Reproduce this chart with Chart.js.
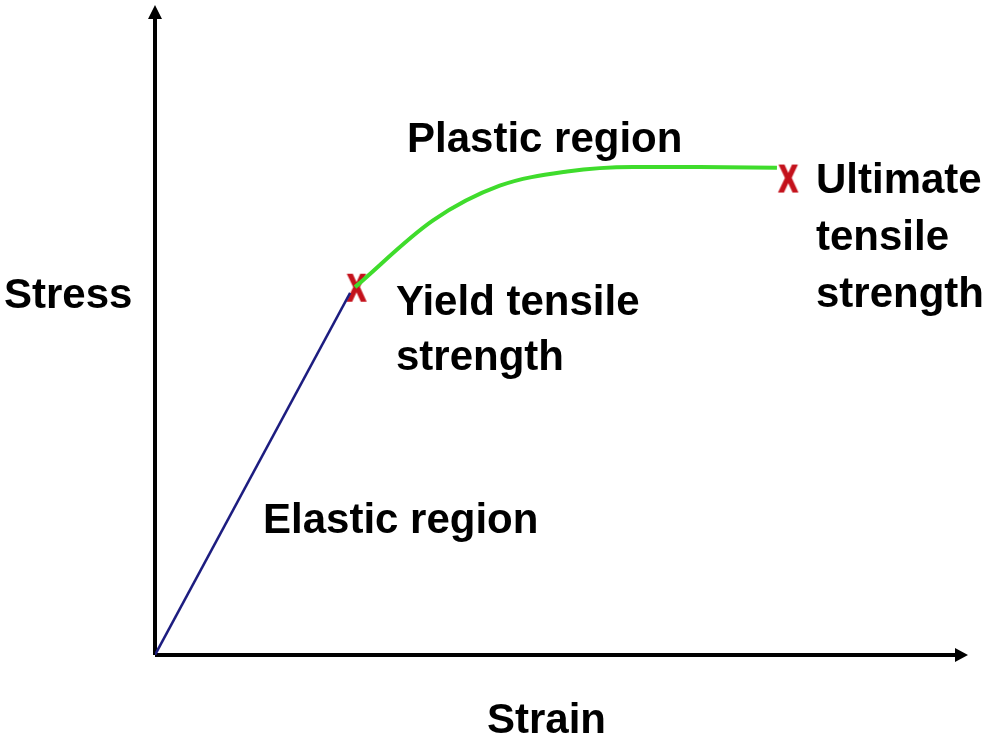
<!DOCTYPE html>
<html>
<head>
<meta charset="utf-8">
<title>Stress-strain curve</title>
<script src="https://cdn.jsdelivr.net/npm/chart.js@4/dist/chart.umd.min.js"></script>
<style>
  html, body { margin: 0; padding: 0; background: #fff; }
  #wrap { width: 1000px; height: 750px; }
</style>
</head>
<body>
<div id="wrap"><canvas id="chart" width="1000" height="750"></canvas></div>
<script>
// Curve values (strain, stress), 0-100 scale
const elasticStrain = [0, 24.0];
const elasticStress = [0, 56.4];
const plasticStrain = [24.6, 34.2, 42.4, 50.7, 58.8, 67.0, 76.5];
const plasticStress = [57.3, 67.7, 73.1, 75.3, 76.0, 76.0, 75.9];
const markerStrain = [24.8, 77.9];
const markerStress = [56.9, 73.9];

const axisTitles = ['Strain', 'Stress'];
const regionLabels = ['Elastic region', 'Plastic region'];
const yieldLabel = ['Yield tensile', 'strength'];
const ultimateLabel = ['Ultimate', 'tensile', 'strength'];

const FONT = 'bold 42px "Liberation Sans", Arial, sans-serif';

const toPoints = (xs, ys) => xs.map((x, i) => ({ x: x, y: ys[i] }));

// red "X" used as the point style for the two strength markers
function makeCross() {
    const c = document.createElement('canvas');
    c.width = 26;
    c.height = 36;
    const g = c.getContext('2d');
    g.fillStyle = '#c4121c';
    g.strokeStyle = '#c4121c';
    g.lineWidth = 2;
    g.textAlign = 'center';
    g.textBaseline = 'middle';
    g.font = 'bold 37px "Liberation Sans", Arial, sans-serif';
    g.save();
    g.translate(13, 19);
    g.scale(0.74, 1);
    g.fillText('X', 0, 0);
    g.strokeText('X', 0, 0);
    g.restore();
    return c;
}

// axes with arrow heads, drawn under the curves
const arrowAxes = {
    id: 'arrowAxes',
    beforeDatasetsDraw(chart) {
        const { ctx, chartArea } = chart;
        const x0 = chartArea.left, y0 = chartArea.bottom;
        const yTip = Math.max(chartArea.top - 8, 4);
        ctx.save();
        ctx.strokeStyle = '#000';
        ctx.fillStyle = '#000';
        ctx.lineWidth = 4;
        ctx.beginPath();
        ctx.moveTo(x0, y0);
        ctx.lineTo(chartArea.right - 10, y0);
        ctx.moveTo(x0, y0);
        ctx.lineTo(x0, yTip + 10);
        ctx.stroke();
        ctx.beginPath();
        ctx.moveTo(chartArea.right, y0);
        ctx.lineTo(chartArea.right - 13, y0 - 7);
        ctx.lineTo(chartArea.right - 13, y0 + 7);
        ctx.closePath();
        ctx.moveTo(x0, yTip);
        ctx.lineTo(x0 - 7, yTip + 14);
        ctx.lineTo(x0 + 7, yTip + 14);
        ctx.closePath();
        ctx.fill();
        ctx.restore();
    }
};

// axis titles and region labels
const labels = {
    id: 'labels',
    afterDraw(chart) {
        const { ctx, chartArea } = chart;
        ctx.save();
        ctx.fillStyle = '#000';
        ctx.font = FONT;
        ctx.textBaseline = 'alphabetic';
        ctx.textAlign = 'center';
        ctx.fillText(axisTitles[0], (chartArea.left + chartArea.right) / 2 - 15, 733);
        ctx.textAlign = 'left';
        ctx.fillText(axisTitles[1], 4, 308);
        ctx.fillText(regionLabels[0], 263, 533);
        ctx.fillText(regionLabels[1], 407, 152);
        yieldLabel.forEach((t, i) => ctx.fillText(t, 396, 315 + i * 55));
        ultimateLabel.forEach((t, i) => ctx.fillText(t, 816, 193 + i * 57));
        ctx.restore();
    }
};

new Chart(document.getElementById('chart'), {
    type: 'scatter',
    data: {
        datasets: [
            {
                label: 'Elastic',
                data: toPoints(elasticStrain, elasticStress),
                showLine: true,
                borderColor: '#1d1d80',
                borderWidth: 2.5,
                pointRadius: 0
            },
            {
                label: 'Plastic',
                data: toPoints(plasticStrain, plasticStress),
                showLine: true,
                borderColor: '#3fdc2c',
                borderWidth: 4,
                cubicInterpolationMode: 'monotone',
                pointRadius: 0
            },
            {
                label: 'Strength',
                data: toPoints(markerStrain, markerStress),
                showLine: false,
                pointStyle: makeCross(),
                pointRadius: 12
            }
        ]
    },
    options: {
        responsive: false,
        animation: false,
        layout: { padding: { left: 155, right: 32, top: 0, bottom: 95 } },
        plugins: { legend: { display: false }, tooltip: { enabled: false } },
        scales: {
            x: { type: 'linear', min: 0, max: 100, display: false },
            y: { type: 'linear', min: 0, max: 100, display: false }
        }
    },
    plugins: [arrowAxes, labels]
});
</script>
</body>
</html>
